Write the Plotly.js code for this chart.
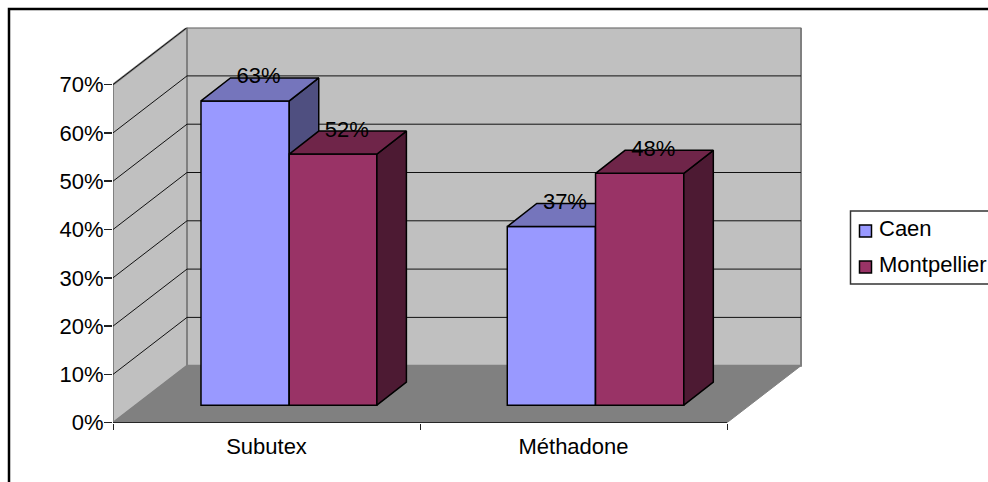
<!DOCTYPE html>
<html><head><meta charset="utf-8">
<script src="https://cdn.plot.ly/plotly-3.0.1.min.js"></script>
<style>html,body{margin:0;padding:0;background:#fff}#c{width:988px;height:482px}</style>
</head><body><div id="c"></div>
<script>
const categories = ['Subutex', 'Méthadone'];
const caen = [63, 37];
const montpellier = [52, 48];
const yTicks = [0, 10, 20, 30, 40, 50, 60, 70];
const seriesNames = ['Caen', 'Montpellier'];
const W = 988, H = 482;
const FONT = 'Liberation Sans, Arial, sans-serif';
const FS = 22;
// projection parameters of the pseudo-3D box (axis units)
const xPerPx = 1 / 307, yPerPx = 1 / 4.83;
const wallDx = 74 * xPerPx, wallDy = 57 * yPerPx;
const floorDy = 17.5 * yPerPx;
const barDx = 29.5 * xPerPx, barDy = 23 * yPerPx;
const barW = [0.2855, 0.2875];
const barStart = [0.2866, 0.2843];
const xRange = [0, 689 * xPerPx], yRange = [0, 395 * yPerPx];
const colors = {
  caen: {front: '#9999FF', top: '#7575BC', side: '#4F4F80'},
  mont: {front: '#993366', top: '#6F2549', side: '#4D1A33'}
};
const poly = pts => 'M' + pts.map(p => p[0] + ',' + p[1]).join(' L') + ' Z';
const px = x => x / W, py = y => 1 - y / H;

const shapes = [];
const wall = (pts, fill) => shapes.push({type: 'path', xref: 'x', yref: 'y', layer: 'below', path: poly(pts), fillcolor: fill, line: {color: '#808080', width: 2}});
const yMax = yTicks[yTicks.length - 1];
wall([[0, 0], [wallDx, wallDy], [wallDx, yMax + wallDy], [0, yMax]], '#C0C0C0');
wall([[wallDx, wallDy], [2 + wallDx, wallDy], [2 + wallDx, yMax + wallDy], [wallDx, yMax + wallDy]], '#C0C0C0');
shapes.push({type: 'path', xref: 'x', yref: 'y', layer: 'below', path: poly([[0, 0], [2, 0], [2 + wallDx, wallDy], [wallDx, wallDy]]), fillcolor: '#808080', line: {color: '#808080', width: 1}});
yTicks.slice(1).forEach(v => {
  shapes.push({type: 'path', xref: 'x', yref: 'y', layer: 'below', path: 'M0,' + v + ' L' + wallDx + ',' + (v + wallDy) + ' L' + (2 + wallDx) + ',' + (v + wallDy), line: {color: '#111', width: 1}});
});
// frame
shapes.push({type: 'path', xref: 'paper', yref: 'paper', path: 'M' + px(9) + ',' + py(484) + ' L' + px(9) + ',' + py(9) + ' L' + px(990) + ',' + py(9), line: {color: '#000', width: 2.5}});
// legend
shapes.push({type: 'rect', xref: 'paper', yref: 'paper', x0: px(850.5), x1: px(992), y0: py(284), y1: py(211), fillcolor: '#fff', line: {color: '#333', width: 1.5}});
const annotations = [];
[colors.caen, colors.mont].forEach((c, i) => {
  const yc = 231 + i * 36;
  shapes.push({type: 'rect', xref: 'paper', yref: 'paper', x0: px(859.5), x1: px(871.5), y0: py(yc + 6), y1: py(yc - 6), fillcolor: c.front, line: {color: '#000', width: 1.5}});
  annotations.push({xref: 'paper', yref: 'paper', x: px(877), y: py(yc - 2.5), xanchor: 'left', yanchor: 'middle', showarrow: false, text: seriesNames[i], font: {family: FONT, size: FS, color: '#000'}});
});

function series(values, startFn, c, name, widthFn, xa, ya) {
  const out = [];
  const xs = values.map((v, i) => i + startFn(i) + widthFn(i) / 2);
  out.push({type: 'bar', name, x: xs, y: values, base: values.map(() => floorDy), width: values.map((v, i) => widthFn(i)),
    marker: {color: c.front, line: {color: '#000', width: 1.5}}, xaxis: xa, yaxis: ya, hoverinfo: 'skip', showlegend: false});
  values.forEach((v, i) => {
    const l = i + startFn(i), r = l + widthFn(i), t = v + floorDy;
    const face = (pts, fill) => out.push({type: 'scatter', mode: 'lines', x: pts.map(p => p[0]), y: pts.map(p => p[1]), fill: 'toself', fillcolor: fill,
      line: {color: '#000', width: 1.5}, xaxis: xa, yaxis: ya, hoverinfo: 'skip', showlegend: false});
    face([[r, floorDy], [r + barDx, floorDy + barDy], [r + barDx, t + barDy], [r, t], [r, floorDy]], c.side);
    face([[l, t], [r, t], [r + barDx, t + barDy], [l + barDx, t + barDy], [l, t]], c.top);
  });
  return out;
}
const traces = [
  ...series(caen, i => barStart[i], colors.caen, seriesNames[0], i => 0.2875, 'x', 'y'),
  ...series(montpellier, i => barStart[i] + 0.2875, colors.mont, seriesNames[1], i => barW[i], 'x2', 'y2')
];
// x axis baseline
traces.push({type: 'scatter', mode: 'lines', x: [0, 2], y: [0, 0], line: {color: '#000', width: 1.5}, cliponaxis: false, hoverinfo: 'skip', showlegend: false, xaxis: 'x2', yaxis: 'y2'});
// data labels
const lblX = [], lblY = [], lblT = [];
[caen, montpellier].forEach((vals, s) => vals.forEach((v, i) => {
  lblX.push(i + barStart[i] + 0.2875 * s + 0.2875 / 2 + 0.044);
  lblY.push(v + floorDy + barDy);
  lblT.push(v + '%');
}));
traces.push({type: 'scatter', mode: 'text', x: lblX, y: lblY, text: lblT, textposition: 'middle center', textfont: {family: FONT, size: FS, color: '#000'}, cliponaxis: false, hoverinfo: 'skip', showlegend: false, xaxis: 'x2', yaxis: 'y2'});

const dom = {x: [113 / W, 802 / W], y: [1 - 422.7 / H, 1 - 27.7 / H]};
Plotly.newPlot('c', traces, {
  width: W, height: H, margin: {l: 0, r: 0, t: 0, b: 0}, paper_bgcolor: '#fff', plot_bgcolor: 'rgba(0,0,0,0)',
  barmode: 'overlay', showlegend: false, font: {family: FONT, size: FS, color: '#000'},
  xaxis: {domain: dom.x, range: xRange, showgrid: false, zeroline: false, showline: false,
    tickmode: 'array', tickvals: [0.5, 1.5], ticktext: categories, ticks: '', tickfont: {family: FONT, size: FS},
    ticklabelstandoff: 8,
    minor: {tickmode: 'array', tickvals: [0, 1, 2], ticks: 'outside', ticklen: 6, tickcolor: '#222', tickwidth: 1, showgrid: false}},
  yaxis: {domain: dom.y, range: yRange, showgrid: false, zeroline: false, showline: false,
    tickmode: 'array', tickvals: yTicks, ticktext: yTicks.map(v => v + '%'), ticks: 'outside', ticklen: 8, tickcolor: '#222', tickwidth: 1.5, tickfont: {family: FONT, size: FS},
    ticklabelstandoff: -4},
  xaxis2: {domain: dom.x, range: xRange, overlaying: 'x', anchor: 'y2', visible: false},
  yaxis2: {domain: dom.y, range: yRange, overlaying: 'y', anchor: 'x2', visible: false},
  shapes, annotations
}, {displayModeBar: false, staticPlot: true});
</script></body></html>
